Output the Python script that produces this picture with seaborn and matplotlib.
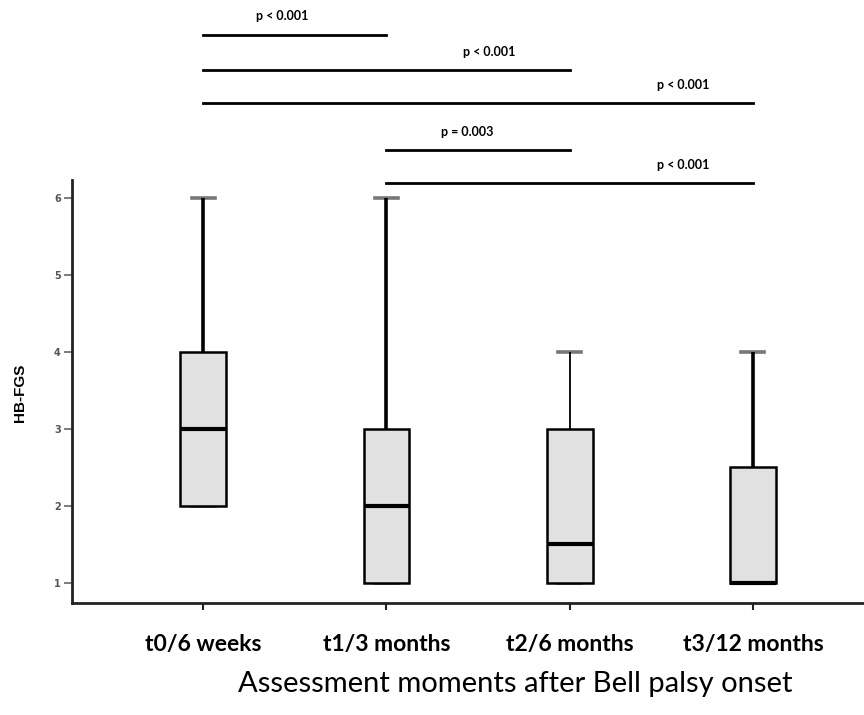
import pandas as pd
import matplotlib
matplotlib.use("Agg")
import matplotlib.pyplot as plt
import seaborn as sns

moments = ["t0/6 weeks", "t1/3 months", "t2/6 months", "t3/12 months"]
hb_t0 = [2, 2, 3, 4, 6]
hb_t1 = [1, 1, 2, 3, 6]
hb_t2 = [1, 1, 1, 1, 1, 2, 3, 3, 3, 4]
hb_t3 = [1, 1, 1, 1, 2, 3, 4]

# pairwise comparisons (group a, group b, p label)
comp_a = [0, 0, 0, 1, 1]
comp_b = [1, 2, 3, 2, 3]
comp_p = ["p < 0.001", "p < 0.001", "p < 0.001", "p = 0.003", "p < 0.001"]

df = pd.DataFrame({
    "moment": [moments[0]] * len(hb_t0) + [moments[1]] * len(hb_t1)
              + [moments[2]] * len(hb_t2) + [moments[3]] * len(hb_t3),
    "hb": hb_t0 + hb_t1 + hb_t2 + hb_t3,
})

fig = plt.figure(figsize=(8.64, 7.15), dpi=100)
ax = fig.add_axes([0.0833, 0.1566, 0.9167, 0.5914])

sns.boxplot(data=df, x="moment", y="hb", order=moments, ax=ax,
            width=0.25, color="#e1e1e1", linecolor="black", showfliers=False,
            boxprops=dict(linewidth=1.8, edgecolor="black", zorder=2),
            medianprops=dict(linewidth=3, color="black", zorder=3),
            whiskerprops=dict(linewidth=2.6, color="black", zorder=1.5),
            capprops=dict(linewidth=2.6, color="#777777", zorder=1))

# the t2 upper whisker is drawn thin in the original
for ln in ax.lines:
    xd, yd = list(ln.get_xdata()), list(ln.get_ydata())
    if len(xd) == 2 and xd[0] == xd[1] == 2 and yd[0] != yd[1]:
        ln.set_linewidth(1.3)

ax.set_xlim(-0.716, 3.606)
ax.set_ylim(0.74, 6.23)
ax.set_yticks([1, 2, 3, 4, 5, 6])
ax.set_xlabel("")
ax.set_ylabel("")
sns.despine(ax=ax)
for s in ["left", "bottom"]:
    ax.spines[s].set_linewidth(2)
    ax.spines[s].set_color("#222222")

ax.tick_params(axis="y", length=6, width=1.2, color="#666666", pad=2,
               labelsize=7, labelcolor="#555555")
ax.tick_params(axis="x", length=5, width=1.5, color="#222222", pad=17)
for lab in ax.get_xticklabels():
    lab.set_fontfamily("Lato")
    lab.set_fontweight("bold")
    lab.set_fontsize(16.5)
for lab in ax.get_yticklabels():
    lab.set_fontweight("bold")

fig.text(0.023, 0.45, "HB-FGS", rotation=90, ha="center", va="center",
         fontsize=11, fontweight="bold", family="Liberation Sans")
fig.text(0.596, 0.043, "Assessment moments after Bell palsy onset",
         ha="center", va="center", fontsize=21, family="Lato")

# significance bars above the plot
bar_y = [8.12, 7.66, 7.23, 6.62, 6.19]
text_x = [0.43, 1.56, 2.62, 1.44, 2.62]
for a, b, p, y, tx in zip(comp_a, comp_b, comp_p, bar_y, text_x):
    ax.plot([a, b], [y, y], color="black", lw=2, clip_on=False)
    ax.text(tx, y + 0.24, p, ha="center", va="center", fontsize=9,
            fontweight="bold", family="Lato", clip_on=False)

fig.savefig("out.png", dpi=100)
